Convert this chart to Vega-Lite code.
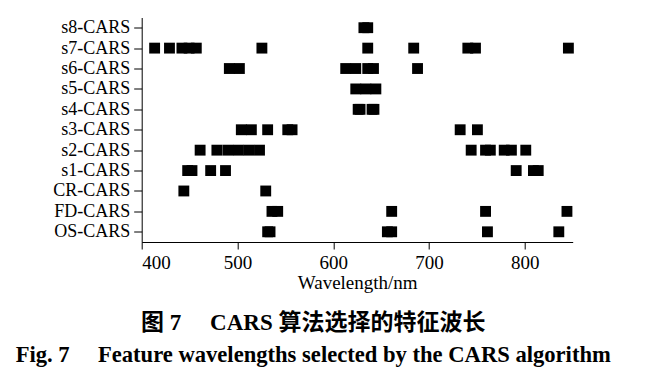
{
  "$schema": "https://vega.github.io/schema/vega-lite/v6.json",
  "autosize": "none",
  "width": 431,
  "height": 224.5,
  "padding": {"left": 141.7, "top": 17.5, "right": 81.3, "bottom": 141},
  "background": "white",
  "config": {"view": {"stroke": null}, "font": "Liberation Serif"},
  "title": {
    "text": "图 7\u2003 CARS 算法选择的特征波长",
    "subtitle": "Fig. 7\u2003 Feature wavelengths selected by the CARS algorithm",
    "orient": "bottom",
    "anchor": "middle",
    "frame": "bounds",
    "offset": 20,
    "font": "Liberation Serif, 'Noto Sans CJK SC'",
    "fontSize": 23,
    "fontWeight": "bold",
    "color": "black",
    "subtitleFont": "Liberation Serif",
    "subtitleFontSize": 22.6,
    "subtitleFontWeight": "bold",
    "subtitleColor": "black",
    "subtitlePadding": 9
  },
  "data": {
    "values": [
      {"s": "s8-CARS", "w": 632}, {"s": "s8-CARS", "w": 636},
      {"s": "s7-CARS", "w": 413.5}, {"s": "s7-CARS", "w": 429}, {"s": "s7-CARS", "w": 442}, {"s": "s7-CARS", "w": 449.5}, {"s": "s7-CARS", "w": 457}, {"s": "s7-CARS", "w": 525.5}, {"s": "s7-CARS", "w": 636}, {"s": "s7-CARS", "w": 684}, {"s": "s7-CARS", "w": 740.5}, {"s": "s7-CARS", "w": 748.5}, {"s": "s7-CARS", "w": 845.5},
      {"s": "s6-CARS", "w": 491.5}, {"s": "s6-CARS", "w": 502}, {"s": "s6-CARS", "w": 613}, {"s": "s6-CARS", "w": 623.5}, {"s": "s6-CARS", "w": 636}, {"s": "s6-CARS", "w": 642}, {"s": "s6-CARS", "w": 688},
      {"s": "s5-CARS", "w": 623.5}, {"s": "s5-CARS", "w": 634}, {"s": "s5-CARS", "w": 644.5},
      {"s": "s4-CARS", "w": 626}, {"s": "s4-CARS", "w": 628}, {"s": "s4-CARS", "w": 640.5}, {"s": "s4-CARS", "w": 642.5},
      {"s": "s3-CARS", "w": 504}, {"s": "s3-CARS", "w": 514.5}, {"s": "s3-CARS", "w": 531.5}, {"s": "s3-CARS", "w": 552.5}, {"s": "s3-CARS", "w": 557}, {"s": "s3-CARS", "w": 732.5}, {"s": "s3-CARS", "w": 750.5},
      {"s": "s2-CARS", "w": 461}, {"s": "s2-CARS", "w": 478.5}, {"s": "s2-CARS", "w": 490}, {"s": "s2-CARS", "w": 501}, {"s": "s2-CARS", "w": 512}, {"s": "s2-CARS", "w": 523}, {"s": "s2-CARS", "w": 744}, {"s": "s2-CARS", "w": 759}, {"s": "s2-CARS", "w": 764}, {"s": "s2-CARS", "w": 778.5}, {"s": "s2-CARS", "w": 786}, {"s": "s2-CARS", "w": 801},
      {"s": "s1-CARS", "w": 448}, {"s": "s1-CARS", "w": 452.5}, {"s": "s1-CARS", "w": 472}, {"s": "s1-CARS", "w": 487.5}, {"s": "s1-CARS", "w": 791}, {"s": "s1-CARS", "w": 809}, {"s": "s1-CARS", "w": 814},
      {"s": "CR-CARS", "w": 444}, {"s": "CR-CARS", "w": 529.5},
      {"s": "FD-CARS", "w": 536}, {"s": "FD-CARS", "w": 542}, {"s": "FD-CARS", "w": 661}, {"s": "FD-CARS", "w": 759}, {"s": "FD-CARS", "w": 844},
      {"s": "OS-CARS", "w": 531.5}, {"s": "OS-CARS", "w": 534}, {"s": "OS-CARS", "w": 656.5}, {"s": "OS-CARS", "w": 661}, {"s": "OS-CARS", "w": 761}, {"s": "OS-CARS", "w": 835.5}
    ]
  },
  "mark": {"type": "point", "shape": "square", "filled": true, "size": 118, "color": "black", "opacity": 1, "strokeWidth": 0},
  "encoding": {
    "x": {
      "field": "w", "type": "quantitative",
      "scale": {"domain": [400, 850], "nice": false, "zero": false},
      "axis": {
        "values": [400, 500, 600, 700, 800],
        "title": "Wavelength/nm",
        "titleFontSize": 19, "titleFontWeight": "normal", "titleColor": "black", "titlePadding": 1,
        "labelFontSize": 19, "labelColor": "black", "labelPadding": 4,
        "tickSize": 7, "tickColor": "black", "domainColor": "black", "grid": false
      }
    },
    "y": {
      "field": "s", "type": "nominal",
      "sort": ["s8-CARS", "s7-CARS", "s6-CARS", "s5-CARS", "s4-CARS", "s3-CARS", "s2-CARS", "s1-CARS", "CR-CARS", "FD-CARS", "OS-CARS"],
      "scale": {"type": "point", "padding": 0.5},
      "axis": {
        "title": null,
        "labelFontSize": 18, "labelColor": "black", "labelPadding": 4,
        "tickSize": 8, "tickColor": "black", "domainColor": "black", "grid": false
      }
    }
  }
}
